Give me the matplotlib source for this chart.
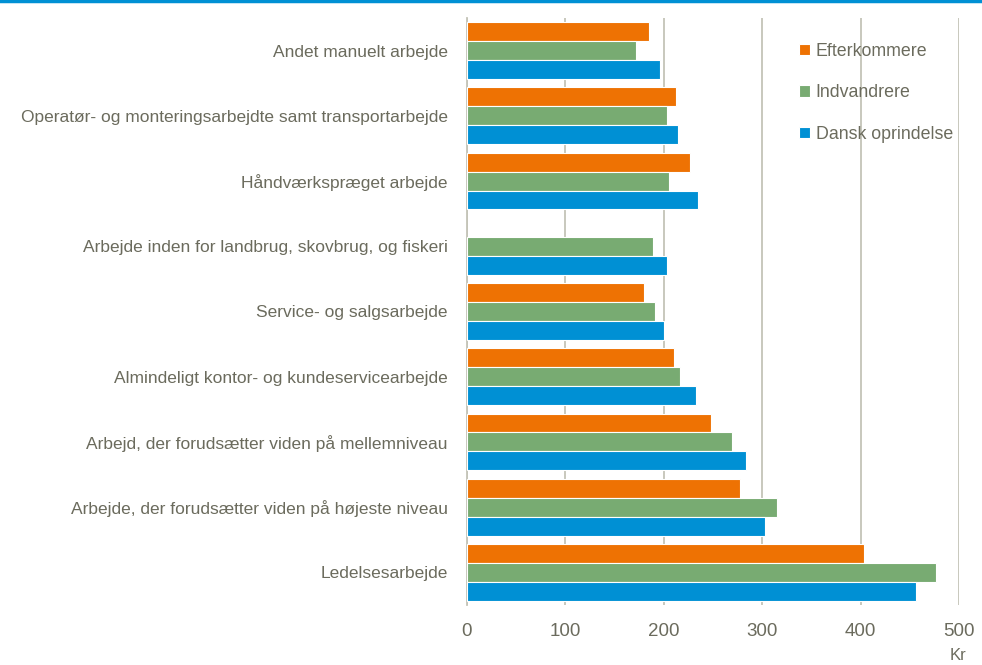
import numpy as np
import matplotlib.pyplot as plt

# ======================= DONNEES =======================
kategorier = [
    "Andet manuelt arbejde",
    "Operatør- og monteringsarbejdte samt transportarbejde",
    "Håndværkspræget arbejde",
    "Arbejde inden for landbrug, skovbrug, og fiskeri",
    "Service- og salgsarbejde",
    "Almindeligt kontor- og kundeservicearbejde",
    "Arbejd, der forudsætter viden på mellemniveau",
    "Arbejde, der forudsætter viden på højeste niveau",
    "Ledelsesarbejde",
]
efterkommere = [185, 212, 227, np.nan, 180, 210, 248, 277, 403]
indvandrere = [172, 203, 205, 189, 191, 216, 269, 315, 477]
dansk = [196, 214, 235, 203, 200, 233, 284, 303, 456]
serier = ["Efterkommere", "Indvandrere", "Dansk oprindelse"]
x_ticks = [0, 100, 200, 300, 400, 500]

# ======================= STIL =======================
ORANGE = "#ee7203"
GROEN = "#78ab72"
BLAA = "#0090d4"
TEKST = "#6b6b5d"
GRID = "#c4c4b8"

plt.rcParams['font.family'] = ['Liberation Sans', 'DejaVu Sans']

fig = plt.figure(figsize=(9.82, 6.65), dpi=100)
ax = fig.add_axes([467 / 982, 1 - 605 / 665, (959 - 467) / 982, (605 - 18) / 665])

y = np.arange(len(kategorier))
h = 0.29
for vals, off, col, navn in zip([efterkommere, indvandrere, dansk], [-h, 0, h],
                                 [ORANGE, GROEN, BLAA], serier):
    ax.barh(y + off, vals, height=h, color=col, edgecolor="white", linewidth=0.8,
            label=navn, zorder=3)

ax.set_ylim(len(kategorier) - 0.5, -0.5)
ax.set_xlim(0, 500)
ax.set_yticks(y)
ax.set_yticklabels(kategorier, fontsize=12.5, color=TEKST)
ax.set_xticks(x_ticks)
ax.set_xticklabels([str(v) for v in x_ticks], fontsize=13.5, color=TEKST)
ax.tick_params(axis="both", length=0)
ax.tick_params(axis="y", pad=14)
ax.tick_params(axis="x", pad=13)

ax.grid(axis="x", color=GRID, linewidth=1.3, zorder=0)
for s in ["top", "right", "bottom"]:
    ax.spines[s].set_visible(False)
ax.spines["left"].set_color(GRID)
ax.spines["left"].set_linewidth(1.3)

leg = ax.legend(loc="upper left", bbox_to_anchor=(0.642, 0.985), frameon=False,
                fontsize=12.8, handlelength=0.6, handleheight=0.6, handletextpad=0.35,
                labelspacing=1.37, labelcolor=TEKST)

# blaa linje i toppen
fig.add_artist(plt.Line2D([0, 1], [0.998, 0.998], color=BLAA, linewidth=2.5,
                          transform=fig.transFigure))

fig.text(958 / 982, 1 - 648 / 665, "Kr", ha="center", va="top", fontsize=12, color=TEKST)

fig.savefig("out.png", dpi=100)
